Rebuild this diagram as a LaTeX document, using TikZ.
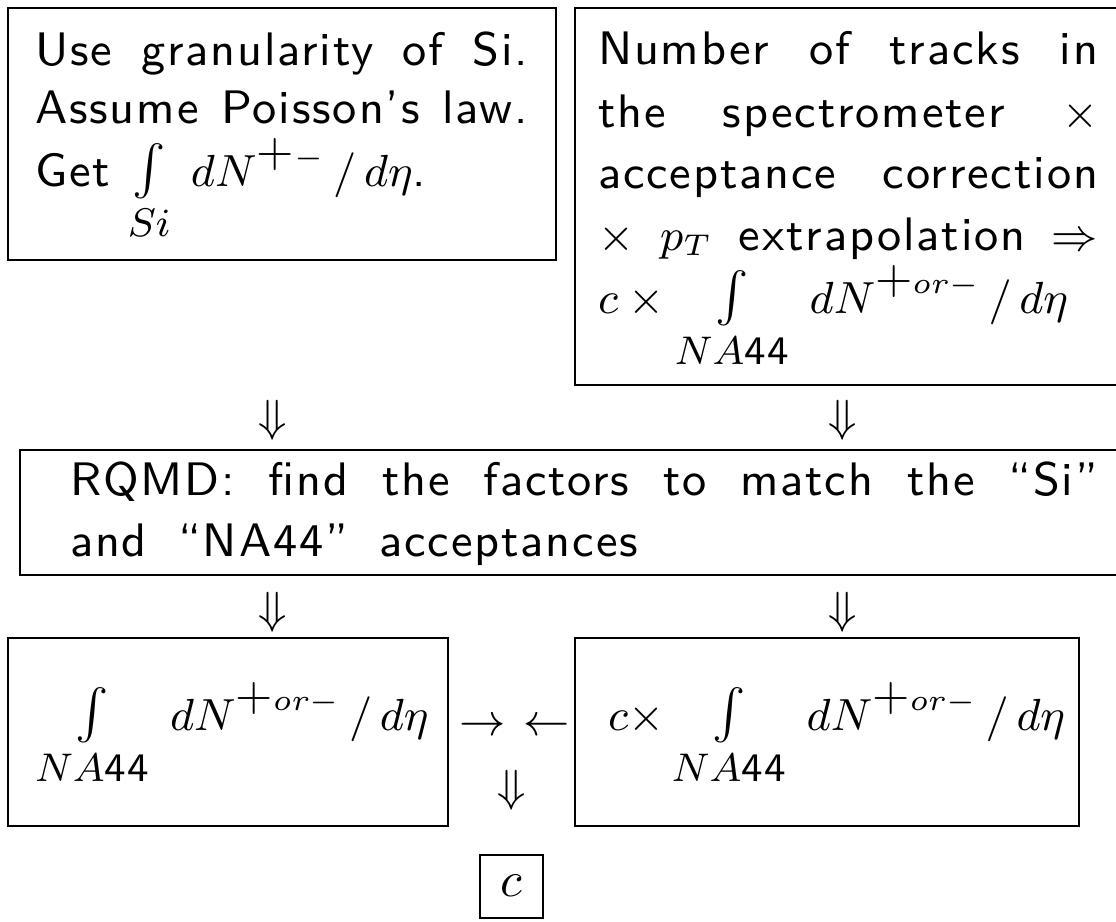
\documentclass[tikz,border=0pt]{standalone}
\usepackage{fontspec}
\setsansfont{Latin Modern Sans}[LetterSpace=4]
\tikzset{
  boxn/.style={draw, line width=0.45pt, inner sep=0pt, outer sep=0pt},
  txt/.style={anchor=base west, inner sep=0pt, outer sep=0pt, font=\fontsize{9.4}{11}\selectfont\sffamily},
  sym/.style={anchor=center, inner sep=0pt, outer sep=0pt, font=\fontsize{9.2}{11}\selectfont\sffamily},
}
\newcommand{\mth}[1]{{\fontsize{9}{11}\selectfont$#1$}}
\newcommand{\smint}{\raisebox{1.2pt}{\fontsize{7}{8}\selectfont$\int$}}
\newcommand{\intlim}[2]{\mathop{\smint}\limits_{\raisebox{0pt}[#2][0pt]{\fontsize{8.1}{10}\selectfont$#1$}}}
\newcommand{\bigplus}{\mbox{\fontsize{9.6}{11}\selectfont+}}
\newcommand{\dnpm}{dN^{\bigplus or-}\,/\,d\eta}
\begin{document}
\begin{tikzpicture}[x=0.2pt,y=-0.2pt]
\useasboundingbox (0,0) rectangle (1116,921);
\clip (0,0) rectangle (1116,921);
% boxes
\node[boxn, minimum width=109.6pt, minimum height=50.4pt] (b1) at (282,134) {};
\node[boxn, minimum width=108.6pt, minimum height=75.4pt] (b2) at (846.5,196.5) {};
\node[boxn, minimum width=219.6pt, minimum height=25pt] (b3) at (569,512.5) {};
\node[boxn, minimum width=88pt, minimum height=37.6pt] (b4) at (228,732) {};
\node[boxn, minimum width=100.8pt, minimum height=37.6pt] (b5) at (827,732) {};
\node[boxn, minimum width=12.6pt, minimum height=12.6pt] (b6) at (511.5,886.5) {};
% box 1 text
\node[txt] (t1a) at (35,65) {\makebox[98.6pt][s]{Use granularity of Si.}};
\node[txt] (t1b) at (35,123) {\makebox[98.6pt][s]{Assume Poisson's law.}};
\node[txt] (t1c) at (35,186) {Get \mth{\intlim{Si}{5.8pt}\; dN^{\bigplus-}\,/\,d\eta}.};
% box 2 text
\node[txt] (t2a) at (598,64) {\makebox[100pt][s]{Number of tracks in}};
\node[txt] (t2b) at (598,127) {\makebox[100pt][s]{the spectrometer \mth{\times}}};
\node[txt] (t2c) at (598,188) {\makebox[100pt][s]{acceptance correction}};
\node[txt] (t2d) at (598,250) {\makebox[100pt][s]{\mth{\times} \mth{p_T} extrapolation \mth{\Rightarrow}}};
\node[txt] (t2e) at (598,313) {\mth{c\times \intlim{NA\mbox{44}}{6pt}\; \dnpm}};
% box 3 text
\node[txt] (t3a) at (70,495) {\makebox[205.6pt][s]{RQMD: find the factors to match the ``Si''}};
\node[txt] (t3b) at (70,556) {\makebox[113.6pt][s]{and ``NA44'' acceptances}};
% box 4, 5 text
\node[txt] (t4) at (35,730) {\mth{\intlim{NA\mbox{44}}{6pt}\; \dnpm}};
\node[txt] (t5) at (608,730) {\mth{c{\times}\intlim{NA\mbox{44}}{6pt}\; \dnpm}};
\node[txt] (t6) at (511.5,896) [anchor=base] {\fontsize{9.8}{11}\selectfont$c$};
% arrows
\node[sym] (a1) at (273,420) {$\Downarrow$};
\node[sym] (a2) at (843,420) {$\Downarrow$};
\node[sym] (a3) at (273,612) {$\Downarrow$};
\node[sym] (a4) at (843,612) {$\Downarrow$};
\node[sym] (a5) at (512,790) {$\Downarrow$};
\node[sym] (a6) at (515,727) {$\rightarrow$\ $\leftarrow$};
\end{tikzpicture}
\end{document}
